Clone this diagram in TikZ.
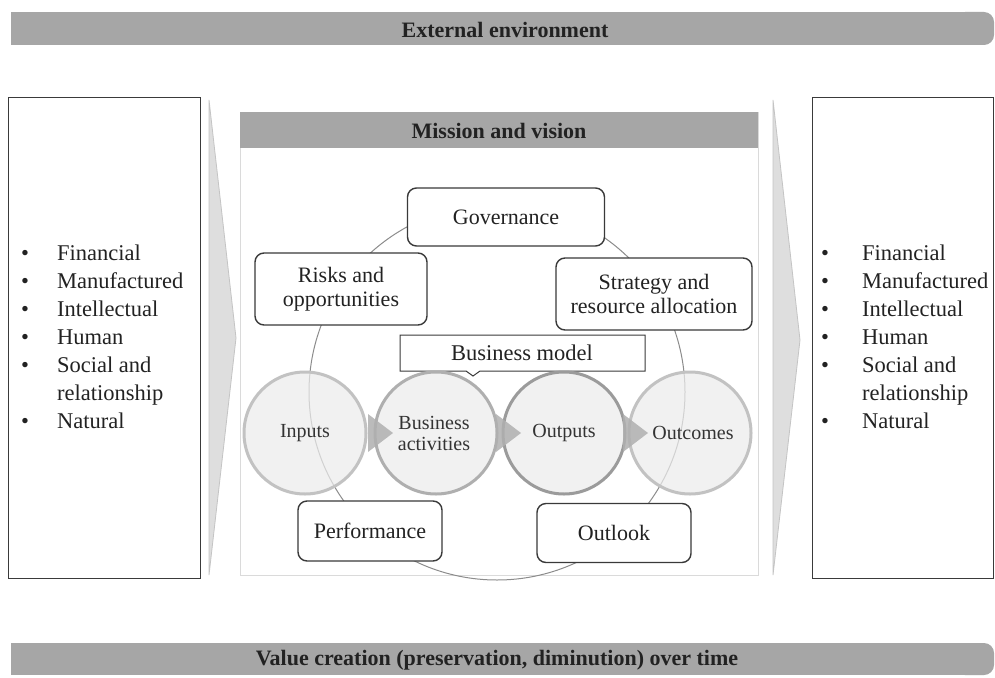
\documentclass[tikz,border=0pt]{standalone}
\usepackage{fontspec}
\setmainfont{Liberation Serif}
\definecolor{barc}{HTML}{A6A6A6}
\definecolor{txt}{HTML}{222222}
\definecolor{txttwo}{HTML}{333333}
\definecolor{boxc}{HTML}{3A3A3A}
\definecolor{chevf}{HTML}{DEDEDE}
\definecolor{chevd}{HTML}{C4C4C4}
\definecolor{circf}{HTML}{ECECEC}
\definecolor{circd}{HTML}{C2C2C2}
\definecolor{tipc}{HTML}{B0B0B0}
\definecolor{ringc}{HTML}{8C8C8C}
\definecolor{panelc}{HTML}{DADADA}
\tikzset{
  barfill/.style={fill=barc, draw=none},
  title/.style={font=\fontsize{22}{26}\selectfont\bfseries, text=txt, inner sep=0pt},
  capbox/.style={draw=boxc, line width=1pt, fill=white},
  rbox/.style={draw=boxc, line width=1.4pt, rounded corners=9pt, fill=white, align=center, text=txt, inner sep=0pt, font=\fontsize{22}{24}\selectfont},
  chev/.style={fill=chevf, draw=chevd, line width=0.8pt},
  stage/.style={circle, fill=circf, fill opacity=0.72, text opacity=1, draw=circd, draw opacity=1, line width=3pt, minimum size=122pt, inner sep=0pt, align=center, font=\fontsize{20}{21}\selectfont, text=txttwo},
  tipfill/.style={fill=tipc, draw=none, fill opacity=0.85},
  ring/.style={draw=ringc, line width=1pt},
  listbox/.style={draw=boxc, line width=1pt, fill=white},
  listtext/.style={anchor=center, inner sep=0pt, text=txt, font=\fontsize{22.5}{28}\selectfont},
  stagetext/.style={text=txttwo, font=\fontsize{20}{21}\selectfont, align=center},
}
\newcommand{\capitals}[1]{%
  \begin{tabular}{@{}l@{\hspace{#1}}l@{}}
  \textbullet & Financial\\
  \textbullet & Manufactured\\
  \textbullet & Intellectual\\
  \textbullet & Human\\
  \textbullet & Social and\\
              & relationship\\
  \textbullet & Natural
  \end{tabular}}
\begin{document}
\begin{tikzpicture}[x=1pt,y=-1pt]
\useasboundingbox (0,0) rectangle (995,677);
\fill[white] (0,0) rectangle (995,677);

% top and bottom bars
\fill[barfill] (11,12) rectangle (980,45);
\fill[barfill, rounded corners=10pt] (955,12) rectangle (994,45);
\node[title] (ext) at (505,30) {External environment};
\fill[barfill] (11,643) rectangle (980,675);
\fill[barfill, rounded corners=10pt] (955,643) rectangle (994,675);
\node[title] (val) at (497,660) {Value creation (preservation, diminution) over time};

% side boxes
\draw[listbox] (8,97) rectangle (200,578);
\draw[listbox] (812,97) rectangle (993,578);
\node[listtext, anchor=west] (inlist) at (21,339) {\capitals{28pt}};
\node[listtext, anchor=west] (outlist) at (821,339) {\capitals{33pt}};

% chevrons
\draw[chev] (209,100) -- (236,338) -- (209,575) -- cycle;
\draw[chev] (773,100) -- (800,340) -- (773,575) -- cycle;

% mission panel
\draw[draw=panelc, line width=0.8pt] (240,112) rectangle (758,575);
\fill[barfill] (240,112) rectangle (758,148);
\node[title] (mission) at (499,131) {Mission and vision};

% ring
\draw[ring] (497,392) circle[radius=188pt];

% boxes
\node[rbox, minimum width=197pt, minimum height=58pt] (gov) at (506,217) {Governance};
\node[rbox, minimum width=172pt, minimum height=72pt] (risk) at (341,289) {Risks and\\opportunities};
\node[rbox, minimum width=196pt, minimum height=72pt] (strat) at (654,294) {Strategy and\\resource allocation};
\node[rbox, minimum width=144pt, minimum height=60pt] (perf) at (370,531) {Performance};
\node[rbox, minimum width=154pt, minimum height=59pt] (outl) at (614,533) {Outlook};

% business model callout
\draw[capbox] (400,335) -- (645,335) -- (645,371) -- (480,371) -- (473,376) -- (466,371) -- (400,371) -- cycle;
\node[listtext] (bm) at (522,353) {Business model};

% stages
\node[stage] (inp) at (305,433) {};
\node[stage, draw=circd!90!black] (act) at (436,433) {};
\node[stage, draw=circd!80!black] (outp) at (564,433) {};
\node[stage] (outc) at (690,433) {};
\fill[tipfill] (368,414) -- (393,433) -- (368,452) -- cycle;
\fill[tipfill] (496,414) -- (521,433) -- (496,452) -- cycle;
\fill[tipfill] (623,414) -- (648,433) -- (623,452) -- cycle;
\node[stagetext] (inpt) at (inp) {Inputs};
\node[stagetext] (actt) at (434,433) {Business\\activities};
\node[stagetext] (outpt) at (564,433) {Outputs};
\node[stagetext] (outct) at (693,433) {Outcomes};
\end{tikzpicture}
\end{document}
